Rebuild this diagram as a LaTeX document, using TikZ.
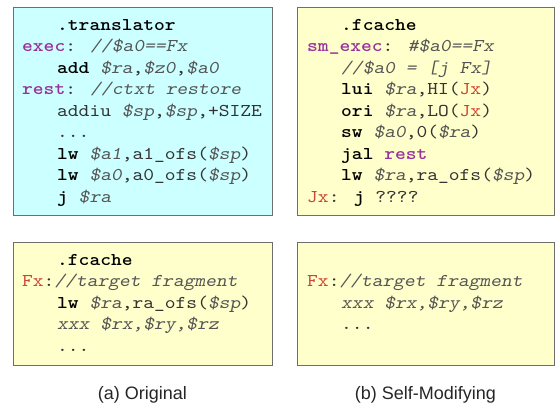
\documentclass[tikz,border=0pt]{standalone}
\usepackage{fontspec}
\setmainfont{Liberation Sans}
% typewriter face, widened so that each character takes 10.8pt
\newfontfamily\codefont[Extension=.otf,
  UprightFont=lmmono10-regular,
  ItalicFont=lmmonoslant10-regular,
  BoldFont=lmmonolt10-bold,
  BoldItalicFont=lmmonolt10-boldoblique,
  FakeStretch=1.14]{lmmono10-regular}
\definecolor{cyanfill}{HTML}{CCFFFF}
\definecolor{yellowfill}{HTML}{FFFFCC}
\definecolor{boxedge}{HTML}{6E6E6E}
\definecolor{lblpurple}{HTML}{993399}
\definecolor{tgred}{HTML}{CC4433}
\definecolor{codegray}{HTML}{333333}
\definecolor{cmtgray}{HTML}{555555}
% code markup helpers
\newcommand\kwd[1]{\textbf{\textcolor{black}{#1}}}
\newcommand\lblname[1]{\textbf{\textcolor{lblpurple}{#1}}}
\newcommand\regv[1]{\textit{\textcolor{cmtgray}{#1}}}
\newcommand\tgt[1]{\textcolor{tgred}{#1}}
\tikzset{
  x=1pt, y=-1pt,
  codebox/.style={draw=boxedge, line width=1.4pt, inner sep=0pt, anchor=north west},
  codeline/.style={anchor=base west, inner sep=0pt, font=\codefont\fontsize{18}{18}\selectfont, text=codegray},
  caption/.style={anchor=base, inner sep=0pt, font=\fontsize{18}{18}\selectfont, text=black!85}
}
\begin{document}
\begin{tikzpicture}
\useasboundingbox (0,0) rectangle (556,407);
% boxes
\node[codebox, fill=cyanfill, minimum width=259pt, minimum height=208pt] (trans) at (13,7) {};
\node[codebox, fill=yellowfill, minimum width=257pt, minimum height=208pt] (smc) at (297,7) {};
\node[codebox, fill=yellowfill, minimum width=259pt, minimum height=123pt] (fca) at (13,242) {};
\node[codebox, fill=yellowfill, minimum width=257pt, minimum height=123pt] (fcb) at (297,242) {};
% (a) translator
\node[codeline] (a1) at (57,30) {\kwd{.translator}};
\node[codeline] (a2) at (22,51.5) {\lblname{exec}: \regv{//\$a0==Fx}};
\node[codeline] (a3) at (57,73) {\kwd{add} \regv{\$ra},\regv{\$z0},\regv{\$a0}};
\node[codeline] (a4) at (22,94.5) {\lblname{rest}: \regv{//ctxt restore}};
\node[codeline] (a5) at (57,116) {addiu \regv{\$sp},\regv{\$sp},+SIZE};
\node[codeline] (a6) at (57,137.5) {...};
\node[codeline] (a7) at (57,159) {\kwd{lw} \regv{\$a1},a1\_ofs(\regv{\$sp})};
\node[codeline] (a8) at (57,180.5) {\kwd{lw} \regv{\$a0},a0\_ofs(\regv{\$sp})};
\node[codeline] (a9) at (57,202) {\kwd{j} \regv{\$ra}};
% (b) self-modifying stub
\node[codeline] (b1) at (341,30) {\kwd{.fcache}};
\node[codeline] (b2) at (307,51.5) {\lblname{sm\_exec}: \regv{\#\$a0==Fx}};
\node[codeline] (b3) at (341,73) {\regv{//\$a0 = [j Fx]}};
\node[codeline] (b4) at (341,94.5) {\kwd{lui} \regv{\$ra},HI(\tgt{Jx})};
\node[codeline] (b5) at (341,116) {\kwd{ori} \regv{\$ra},LO(\tgt{Jx})};
\node[codeline] (b6) at (341,137.5) {\kwd{sw} \regv{\$a0},0(\regv{\$ra})};
\node[codeline] (b7) at (341,159) {\kwd{jal} \lblname{rest}};
\node[codeline] (b8) at (341,180.5) {\kwd{lw} \regv{\$ra},ra\_ofs(\regv{\$sp})};
\node[codeline] (b9) at (307,202) {\tgt{Jx}: \kwd{j} ????};
% (a) fragment cache
\node[codeline] (c1) at (57,265) {\kwd{.fcache}};
\node[codeline] (c2) at (22,286.5) {\tgt{Fx}:\regv{//target fragment}};
\node[codeline] (c3) at (57,308) {\kwd{lw} \regv{\$ra},ra\_ofs(\regv{\$sp})};
\node[codeline] (c4) at (57,329.5) {\regv{xxx \$rx,\$ry,\$rz}};
\node[codeline] (c5) at (57,351) {...};
% (b) fragment cache
\node[codeline] (d1) at (307,286.5) {\tgt{Fx}:\regv{//target fragment}};
\node[codeline] (d2) at (341,308) {\regv{xxx \$rx,\$ry,\$rz}};
\node[codeline] (d3) at (341,329.5) {...};
% captions
\node[caption] (capa) at (142.5,399) {(a) Original};
\node[caption] (capb) at (425.5,399) {(b) Self-Modifying};
\end{tikzpicture}
\end{document}
